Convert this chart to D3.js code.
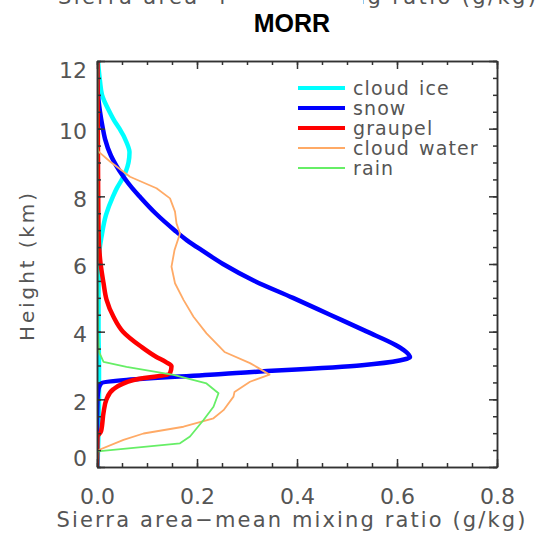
<!DOCTYPE html>
<html>
<head>
<meta charset="utf-8">
<script src="https://cdn.jsdelivr.net/npm/d3@7"></script>
<style>
  body { margin: 0; background: #fff; }
  svg { display: block; }
  text { font-family: "DejaVu Sans", sans-serif; fill: #555; }
  .axis path, .axis line { stroke: #333; stroke-width: 1.5; }
  .axis text { font-size: 22px; fill: #555; font-family: "DejaVu Sans", sans-serif; }
  .legend text { font-size: 19px; letter-spacing: 1.1px; word-spacing: 2px; }
</style>
</head>
<body>
<svg id="chart" width="539" height="544"></svg>
<script>
// series names in legend order
const seriesNames = ["cloud ice", "snow", "graupel", "cloud water", "rain"];

// height (km) and mixing ratio (g/kg) per series
const iceH = [0, 1, 2, 3, 4, 5, 6, 6.4, 6.8, 7.45, 8.0, 8.25, 8.5, 8.75, 9.0, 9.3, 9.6, 10.0, 10.2, 10.5, 11.0, 11.4, 12];
const iceQ = [0.001, 0.003, 0.004, 0.004, 0.003, 0.003, 0.004, 0.005, 0.009, 0.018, 0.032, 0.04, 0.05, 0.058, 0.063, 0.065, 0.059, 0.045, 0.036, 0.025, 0.01, 0.006, 0.002];

const snowH = [0, 1, 2, 2.3, 2.47, 2.75, 3.01, 3.15, 3.25, 3.45, 3.6, 4.0, 4.5, 5.0, 5.5, 6.0, 6.4, 6.7, 7.0, 7.5, 8.0, 8.25, 8.58, 9.2, 9.7, 10.06, 10.5, 10.85, 11.2, 12];
const snowQ = [0, 0, 0.001, 0.003, 0.008, 0.25, 0.53, 0.605, 0.626, 0.614, 0.598, 0.54, 0.466, 0.392, 0.315, 0.252, 0.21, 0.18, 0.155, 0.117, 0.085, 0.07, 0.053, 0.028, 0.016, 0.011, 0.006, 0.003, 0.001, 0];

const graupH = [0, 0.9, 1.05, 1.6, 2.0, 2.3, 2.57, 2.77, 2.98, 3.1, 3.26, 3.56, 4.0, 4.44, 4.95, 5.44, 6.03, 7, 9, 12];
const graupQ = [0, 0.001, 0.008, 0.013, 0.019, 0.033, 0.073, 0.146, 0.149, 0.138, 0.118, 0.088, 0.052, 0.033, 0.019, 0.013, 0.007, 0.003, 0.002, 0.001];

const cwH = [0, 0.48, 0.8, 0.99, 1.19, 1.44, 1.68, 2.08, 2.22, 2.52, 2.73, 2.96, 3.07, 3.4, 3.95, 4.44, 4.94, 5.43, 5.92, 6.41, 6.9, 7.2, 7.55, 7.94, 8.24, 8.58, 9.03, 9.32, 9.5, 12];
const cwQ = [0, 0, 0.053, 0.093, 0.173, 0.233, 0.253, 0.273, 0.275, 0.306, 0.345, 0.319, 0.306, 0.255, 0.219, 0.193, 0.173, 0.156, 0.149, 0.155, 0.166, 0.159, 0.156, 0.146, 0.119, 0.066, 0.026, 0.003, 0, 0];

const rainH = [0, 0.46, 0.7, 0.9, 1.39, 1.78, 2.18, 2.47, 2.72, 2.96, 3.11, 3.4, 4, 6, 12];
const rainQ = [0, 0.001, 0.166, 0.186, 0.213, 0.233, 0.243, 0.219, 0.153, 0.059, 0.013, 0.004, 0.002, 0.001, 0.001];

// axis ticks
const xTicks = [0, 0.2, 0.4, 0.6, 0.8];
const yTicks = [0, 2, 4, 6, 8, 10, 12];

const styles = [
    {color: "#00ffff", width: 4.5, curve: d3.curveMonotoneY},
    {color: "#0000ff", width: 4.5, curve: d3.curveMonotoneY},
    {color: "#ff0000", width: 4.5, curve: d3.curveMonotoneY},
    {color: "#ffaa66", width: 1.8, curve: d3.curveLinear},
    {color: "#66ee66", width: 1.8, curve: d3.curveLinear}
];

const profiles = [[iceH, iceQ], [snowH, snowQ], [graupH, graupQ], [cwH, cwQ], [rainH, rainQ]]
    .map(([h, q], i) => ({name: seriesNames[i], style: styles[i], points: h.map((d, j) => ({h: d, q: q[j]}))}));

const svg = d3.select("#chart");
const box = {left: 97, right: 497, top: 61, bottom: 467};

const x = d3.scaleLinear().domain([0, 0.8]).range([box.left, box.right]);
const y = d3.scaleLinear().domain([0, 12]).range([box.bottom, box.top]);

// cut-off title from the panel above
svg.append("text")
    .attr("x", 58).attr("y", 4)
    .attr("textLength", 478).attr("lengthAdjust", "spacing")
    .style("font-size", "21px")
    .text("Sierra area\u2212mean mixing ratio (g/kg)");
svg.append("rect").attr("x", 226).attr("y", 0).attr("width", 137).attr("height", 12).attr("fill", "#fff");

svg.append("text")
    .attr("x", 292).attr("y", 32)
    .attr("text-anchor", "middle")
    .style("font-family", "'Liberation Sans', Arial, sans-serif")
    .style("font-weight", "bold").style("font-size", "25px").style("fill", "#000")
    .text("MORR");

svg.append("clipPath").attr("id", "plot-clip")
    .append("rect")
    .attr("x", box.left).attr("y", box.top)
    .attr("width", box.right - box.left).attr("height", box.bottom - box.top);

const line = curve => d3.line().x(d => x(d.q)).y(d => y(d.h)).curve(curve);

svg.append("g").attr("clip-path", "url(#plot-clip)")
    .selectAll("path")
    .data(profiles)
    .join("path")
    .attr("fill", "none")
    .attr("stroke", d => d.style.color)
    .attr("stroke-width", d => d.style.width)
    .attr("stroke-linejoin", "round")
    .attr("d", d => line(d.style.curve)(d.points));

// axes with inward ticks
const minorX = d3.range(0, 0.8001, 0.05);
const minorY = d3.range(0, 12.001, 0.5);

function drawAxis(axis, tx, ty) {
    return svg.append("g").attr("class", "axis").attr("transform", `translate(${tx},${ty})`).call(axis);
}

drawAxis(d3.axisBottom(x).tickValues(minorX).tickSize(-4).tickSizeOuter(0).tickFormat(""), 0, box.bottom);
drawAxis(d3.axisTop(x).tickValues(minorX).tickSize(-4).tickSizeOuter(0).tickFormat(""), 0, box.top);
drawAxis(d3.axisLeft(y).tickValues(minorY).tickSize(-4).tickSizeOuter(0).tickFormat(""), box.left, 0);
drawAxis(d3.axisRight(y).tickValues(minorY).tickSize(-4).tickSizeOuter(0).tickFormat(""), box.right, 0);

drawAxis(d3.axisBottom(x).tickValues(xTicks).tickSize(-8).tickSizeOuter(0).tickPadding(21)
    .tickFormat(d3.format(".1f")), 0, box.bottom);
drawAxis(d3.axisTop(x).tickValues(xTicks).tickSize(-8).tickSizeOuter(0).tickFormat(""), 0, box.top);
const yAxis = drawAxis(d3.axisLeft(y).tickValues(yTicks).tickSize(-8).tickSizeOuter(0).tickPadding(10)
    .tickFormat(d3.format("d")), box.left, 0);
drawAxis(d3.axisRight(y).tickValues(yTicks).tickSize(-8).tickSizeOuter(0).tickFormat(""), box.right, 0);

// end labels sit inside the frame like the original
yAxis.selectAll(".tick text")
    .attr("x", -10)
    .attr("dy", d => d === 12 ? "0.75em" : d === 0 ? "-0.05em" : "0.45em");

svg.append("text")
    .attr("x", 291).attr("y", 527)
    .attr("text-anchor", "middle")
    .attr("textLength", 469).attr("lengthAdjust", "spacing")
    .style("font-size", "21px")
    .text("Sierra area\u2212mean mixing ratio (g/kg)");

svg.append("text")
    .attr("transform", "translate(34,267) rotate(-90)")
    .attr("text-anchor", "middle")
    .attr("textLength", 148).attr("lengthAdjust", "spacing")
    .style("font-size", "20px")
    .text("Height (km)");

// legend
const legend = svg.append("g").attr("class", "legend")
    .selectAll("g")
    .data(profiles)
    .join("g")
    .attr("transform", (d, i) => `translate(298,${88 + i * 20})`);

legend.append("line")
    .attr("x1", 0).attr("x2", 47)
    .attr("stroke", d => d.style.color)
    .attr("stroke-width", d => d.style.width > 3 ? 4 : 2);

legend.append("text")
    .attr("x", 55).attr("dy", "0.35em")
    .text(d => d.name);
</script>
</body>
</html>
